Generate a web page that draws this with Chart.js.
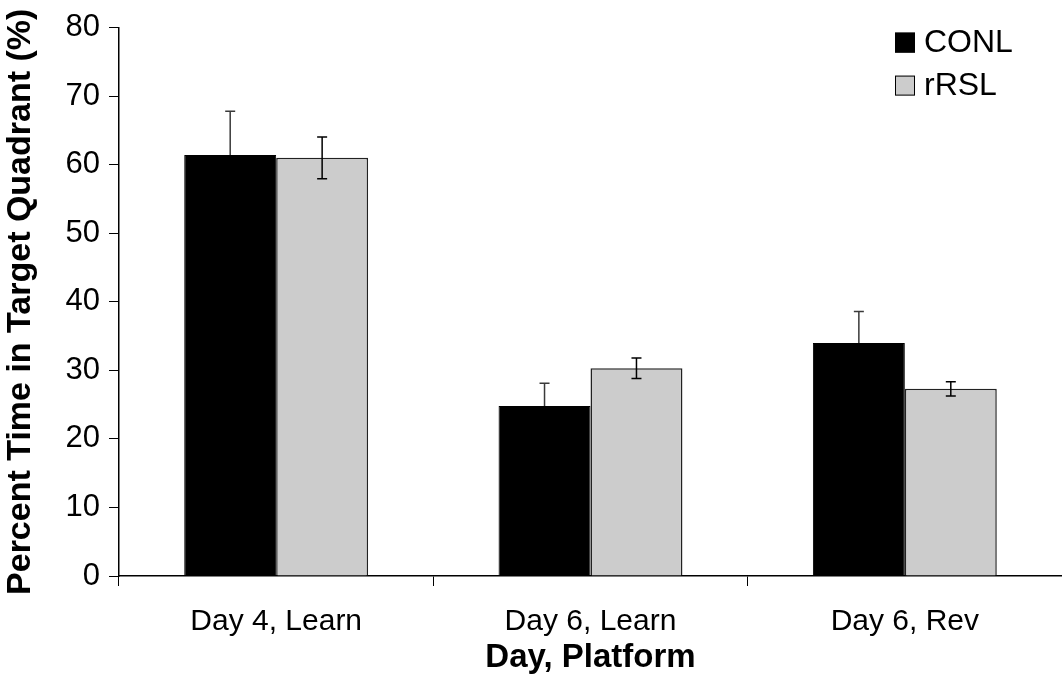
<!DOCTYPE html>
<html>
<head>
<meta charset="utf-8">
<script src="https://cdn.jsdelivr.net/npm/chart.js@4/dist/chart.umd.min.js"></script>
<style>
  html, body { margin: 0; padding: 0; background: #fff; }
  #wrap { width: 1062px; height: 678px; }
</style>
</head>
<body>
<div id="wrap"><canvas id="c" width="1062" height="678"></canvas></div>
<script>
// Categories and group means with standard errors
const categories = ["Day 4, Learn", "Day 6, Learn", "Day 6, Rev"];
const seriesNames = ["CONL", "rRSL"];
const conlMeans = [61.4, 24.8, 34.0];
const conlErrors = [6.4, 3.3, 4.6];
const rrslMeans = [61.0, 30.3, 27.3];
const rrslErrors = [3.05, 1.5, 1.05];
const yTicks = [0, 10, 20, 30, 40, 50, 60, 70, 80];

const FONT = "'Liberation Sans', Arial, Helvetica, sans-serif";

// Symmetric error bars from each dataset's "errors" array.
// Datasets flagged errorBehind get their whiskers drawn underneath the bars.
function drawErrors(chart, di) {
  const ds = chart.data.datasets[di];
  const ctx = chart.ctx;
  const y = chart.scales.y;
  const meta = chart.getDatasetMeta(di);
  meta.data.forEach((bar, i) => {
    const v = ds.data[i], e = ds.errors[i];
    const yTop = y.getPixelForValue(v + e);
    const yBot = y.getPixelForValue(v - e);
    const x = bar.x;
    ctx.save();
    ctx.strokeStyle = ds.errorColor;
    ctx.lineWidth = 1.5;
    ctx.beginPath();
    ctx.moveTo(x, yTop); ctx.lineTo(x, yBot);
    ctx.moveTo(x - 5, yTop); ctx.lineTo(x + 5, yTop);
    ctx.moveTo(x - 5, yBot); ctx.lineTo(x + 5, yBot);
    ctx.stroke();
    ctx.restore();
  });
}
const errorBars = {
  id: 'errorBars',
  beforeDatasetDraw(chart, args) {
    if (chart.data.datasets[args.index].errorBehind) drawErrors(chart, args.index);
  },
  afterDatasetDraw(chart, args) {
    if (!chart.data.datasets[args.index].errorBehind) drawErrors(chart, args.index);
  }
};

// Legend box in the upper right of the plot area
const boxLegend = {
  id: 'boxLegend',
  afterDraw(chart) {
    const ctx = chart.ctx;
    const area = chart.chartArea;
    const x0 = area.right - 167, y0 = area.top + 5;
    ctx.save();
    ctx.font = "32px " + FONT;
    ctx.textBaseline = 'middle';
    chart.data.datasets.forEach((ds, i) => {
      const cy = y0 + 10 + i * 43;
      ctx.fillStyle = ds.backgroundColor;
      ctx.fillRect(x0, cy - 10, 20, 20);
      ctx.strokeStyle = '#000';
      ctx.lineWidth = 1;
      ctx.strokeRect(x0 + 0.5, cy - 9.5, 19, 19);
      ctx.fillStyle = '#000';
      ctx.fillText(ds.label, x0 + 29, cy + 1);
    });
    ctx.restore();
  }
};

new Chart(document.getElementById('c'), {
  type: 'bar',
  data: {
    labels: categories,
    datasets: [
      {
        label: seriesNames[0],
        data: conlMeans,
        errors: conlErrors,
        errorColor: '#3a3a3a',
        errorBehind: true,
        backgroundColor: '#000000',
        borderColor: '#000000',
        borderWidth: 1,
        categoryPercentage: 0.585,
        barPercentage: 1.0
      },
      {
        label: seriesNames[1],
        data: rrslMeans,
        errors: rrslErrors,
        errorColor: '#000000',
        errorBehind: false,
        backgroundColor: '#cccccc',
        borderColor: '#222222',
        borderWidth: 1.5,
        categoryPercentage: 0.585,
        barPercentage: 1.0
      }
    ]
  },
  options: {
    responsive: false,
    animation: false,
    layout: { padding: { top: 27, right: 0, left: 0, bottom: 0 } },
    plugins: { legend: { display: false }, tooltip: { enabled: false } },
    scales: {
      x: {
        grid: { display: true, drawOnChartArea: false, offset: true, color: '#000', tickLength: 10, lineWidth: 1 },
        border: { display: true, color: '#000', width: 1.5 },
        ticks: { color: '#000', font: { family: FONT, size: 30 }, padding: 18 },
        title: { display: true, text: 'Day, Platform', color: '#000', font: { family: FONT, size: 33, weight: 'bold' }, padding: { top: 2, bottom: 0 } },
        afterFit(scale) { scale.height = 102; }
      },
      y: {
        min: 0, max: 80,
        afterBuildTicks(scale) { scale.ticks = yTicks.map(v => ({ value: v })); },
        grid: { display: true, drawOnChartArea: false, color: '#000', tickLength: 10, lineWidth: 1 },
        border: { display: true, color: '#000', width: 1.5 },
        ticks: { color: '#000', font: { family: FONT, size: 31 }, padding: 9 },
        title: { display: true, text: 'Percent Time in Target Quadrant (%)', color: '#000', font: { family: FONT, size: 34, weight: 'bold' }, padding: { top: 0, bottom: 2 } },
        afterFit(scale) { scale.width = 119; }
      }
    }
  },
  plugins: [errorBars, boxLegend]
});
</script>
</body>
</html>
